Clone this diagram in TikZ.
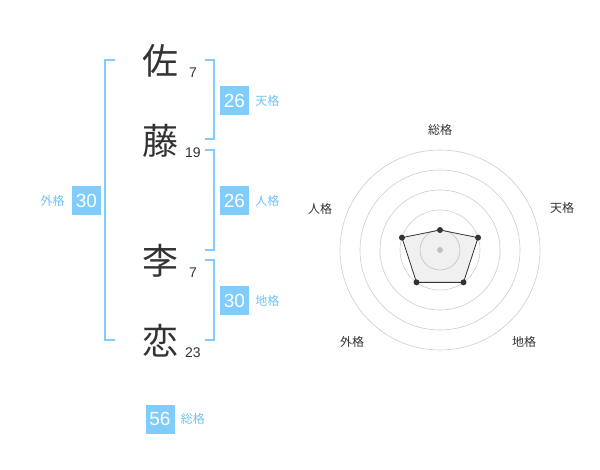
\documentclass[tikz,border=0pt]{standalone}
\usepackage{fontspec}
\setmainfont{Liberation Sans}
\newfontfamily\cjk{Noto Sans CJK JP}
\usepackage{tikz}
\usetikzlibrary{positioning,calc}
\usepackage{xcolor}
\definecolor{kakublue}{RGB}{128,204,250}
\definecolor{kakutext}{RGB}{112,193,242}
\definecolor{kanjigray}{RGB}{51,51,51}
\definecolor{ringgray}{RGB}{205,205,205}
\tikzstyle{kanji} = [font=\cjk\fontsize{36}{36}\selectfont, text=kanjigray, inner sep=0]
\tikzstyle{strokes} = [font=\fontsize{14}{14}\selectfont, text=kanjigray, inner sep=0]
\tikzstyle{kakubox} = [rectangle, fill=kakublue, text=white, minimum size=29pt, inner sep=0, font=\fontsize{19}{19}\selectfont]
\tikzstyle{kakulabel} = [font=\cjk\fontsize{12}{12}\selectfont, text=kakutext, inner sep=0]
\tikzstyle{bracket} = [kakublue, line width=1.6pt]
\tikzstyle{axislabel} = [font=\cjk\fontsize{12}{12}\selectfont, text=kanjigray, inner sep=0]
\tikzstyle{vertex} = [circle, fill=kanjigray, inner sep=0, minimum size=6pt]

\begin{document}
\begin{tikzpicture}[x=1pt, y=-1pt]
\useasboundingbox (0,0) rectangle (600,470);

% Name characters
\node[kanji] (sa) at (160,61) {佐};
\node[kanji] (to) at (160,141) {藤};
\node[kanji] (ri) at (160,261) {李};
\node[kanji] (koi) at (160,341) {恋};
\node[strokes] at (193,73) {7};
\node[strokes] at (193,153) {19};
\node[strokes] at (193,273) {7};
\node[strokes] at (193,353) {23};

% Brackets
\draw[bracket] (115,60) -- (105,60) -- (105,340) -- (115,340);
\draw[bracket] (205,60) -- (214,60) -- (214,139) -- (205,139);
\draw[bracket] (205,150) -- (214,150) -- (214,250) -- (205,250);
\draw[bracket] (205,260) -- (214,260) -- (214,340) -- (205,340);

% Kaku boxes
\node[kakubox] (ten) at (234.5,100.5) {26};
\node[kakulabel, right=6pt of ten] {天格};
\node[kakubox] (jin) at (234.5,200.5) {26};
\node[kakulabel, right=6pt of jin] {人格};
\node[kakubox] (chi) at (234.5,300.5) {30};
\node[kakulabel, right=6pt of chi] {地格};
\node[kakubox] (gai) at (86.5,200.5) {30};
\node[kakulabel, left=7pt of gai] {外格};
\node[kakubox] (sou) at (160,419) {56};
\node[kakulabel, right=6pt of sou] {総格};

% Radar chart
\coordinate (radar) at (440,250);
\foreach \r in {20,40,60,80,100}
  \draw[ringgray, line width=0.6pt] (radar) circle (\r pt);
\fill[ringgray] (radar) circle (3pt);
\coordinate (vsou) at ($(radar)+(90:20pt)$);
\coordinate (vten) at ($(radar)+(18:40pt)$);
\coordinate (vchi) at ($(radar)+(-54:40pt)$);
\coordinate (vgai) at ($(radar)+(-126:40pt)$);
\coordinate (vjin) at ($(radar)+(162:40pt)$);
\draw[kanjigray, line width=0.8pt, fill=black, fill opacity=0.06] (vsou) -- (vten) -- (vchi) -- (vgai) -- (vjin) -- cycle;
\foreach \v in {vsou,vten,vchi,vgai,vjin}
  \node[vertex] at (\v) {};
\node[axislabel] at (440,130) {総格};
\node[axislabel] at (562,208) {天格};
\node[axislabel] at (320,209) {人格};
\node[axislabel] at (352,342) {外格};
\node[axislabel] at (524,342) {地格};
\end{tikzpicture}
\end{document}
